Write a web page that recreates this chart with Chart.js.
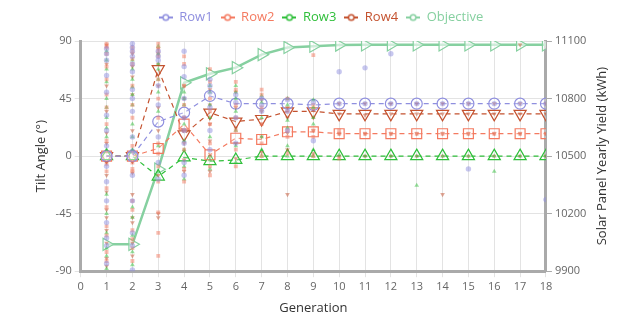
<!DOCTYPE html>
<html lang="en">
<head>
    <meta charset="UTF-8">
    <title>Tilt Angle by Generation</title>
    <script src="https://cdn.jsdelivr.net/npm/chart.js"></script>
    <style>
        html, body { margin: 0; padding: 0; background: #fff; }
        .chart-container { width: 636px; height: 330px; }
    </style>
</head>
<body>
    <div class="chart-container">
        <canvas id="tiltChart"></canvas>
    </div>

<script>
// generations 1..18
const generations = [1, 2, 3, 4, 5, 6, 7, 8, 9, 10, 11, 12, 13, 14, 15, 16, 17, 18];

// best individual per generation (tilt angle, degrees)
const row1Best = [0, 0, 27, 34, 47, 41, 41, 41, 40, 41, 41, 41, 41, 41, 41, 41, 41, 41];
const row2Best = [0, 0, 6, 25, 1, 14, 13, 19, 19, 17.5, 17.5, 17.5, 17.5, 17.5, 17.5, 17.5, 17.5, 17.5];
const row3Best = [0, 0, -16, -1, -4, -3, 0, 0, 0, 0, 0, 0, 0, 0, 0, 0, 0, 0];
const row4Best = [0, 0, 68, 17, 34, 27, 29, 35, 35, 33, 33, 33, 33, 33, 33, 33, 33, 33];

// objective (yearly yield, kWh)
const objective = [10040, 10040, 10432, 10882, 10929, 10961, 11029, 11066, 11073, 11079, 11080, 11080, 11080, 11080, 11080, 11080, 11080, 11080];

// population per generation
const row1Pop = [
    [84, 80, 75, 63, 50, 32, 20, 8, -8, -20, -35, -52, -64, -70, -84],
    [88, 85, 82, 78, 72, 66, 52, 45, 35, 15, 4, -15, -35, -60, -70, -89],
    [82, 78, 75, 55, 40, 15, -5, -18],
    [82, 70, 62, 45, 30, 20, 10, -5, -15],
    [60, 55, 50, 38, 20, 5],
    [48, 42, 30, 10],
    [45, 40, 35],
    [44, 35, 20],
    [42, 12],
    [66, 41],
    [69, 41],
    [80, 41],
    [41],
    [41],
    [41, -10],
    [41],
    [41],
    [41, -34]
];
const row2Pop = [
    [88, 86, 85, 80, 70, 60, 48, 38, 25, 12, -6, -12, -25, -40, -55, -62, -75, -82],
    [85, 82, 76, 72, 55, 40, 30, 8, -5, -10, -12, -35, -42, -58, -65, -72, -82],
    [88, 85, 82, 78, 60, 45, 30, 10, 2, -8, -20, -44, -60, -78],
    [78, 72, 55, 40, 30, 20, 5, -10, -20],
    [68, 58, 45, 35, 25, 10, -8, -15],
    [58, 52, 40, 30, 20, 5, -8],
    [52, 48, 38, 25, 10, 0],
    [45, 35, 20, 15, 2],
    [79, 40, 20, 15, 0],
    [20, 17.5, -2],
    [17.5],
    [17.5],
    [17.5],
    [17.5],
    [17.5],
    [17.5],
    [17.5],
    [17.5]
];
const row3Pop = [
    [82, 75, 68, 58, 45, 38, 30, 22, 15, 5, -30, -45, -60, -72, -78, -88],
    [75, 68, 60, 54, 48, 40, 25, 15, 5, -40, -48, -62, -75, -85],
    [86, 80, 72, 68, 60, 50, 35, 8, -12],
    [50, 45, 40, 25, 12, 5, -8, -18],
    [55, 50, 40, 30, 15, -3, -10],
    [55, 50, 45, 35, 20, 8, -5],
    [47, 42, 30, 15, 5, 0],
    [45, 40, 28, 22, 8, 0],
    [44, 38, 30, 25, 5, 0],
    [1],
    [0],
    [0],
    [0, -23],
    [0],
    [0],
    [0, -12],
    [0],
    [0]
];
const row4Pop = [
    [87, 72, 55, 35, 18, 10, -5, -15, -28, -42, -48, -58, -68, -80, -86],
    [80, 70, 62, 48, 20, -13, -30, -48, -52, -68, -78],
    [84, 80, 72, 55, 38, 20, -15, -45, -48],
    [55, 45, 30, 10, -3, -12],
    [52, 40, 25, 12, 0, -12],
    [50, 38, 22, 10, -2],
    [44, 35, 25, 15, 3],
    [38, 30, 18, 5, -30],
    [36, 30, 20, 2],
    [33, 0, 17.5, 41],
    [32, 0, 17.5, 41],
    [33, 0, 17.5, 41],
    [33, 0, 17.5, 41],
    [33, 0, 17.5, 41, -30],
    [33, 0, 17.5, 41],
    [33, 0, 17.5, 41],
    [33, 87, 0, 17.5, 41],
    [33, 0, 17.5, 41]
];

const colors = {
    row1: '#8f8fdf',
    row2: '#f47a60',
    row3: '#2fbf3a',
    row4: '#c4522f',
    objective: '#86d0a0'
};

const FONT = 'Open Sans';
const rightTitle = 'Solar Panel Yearly Yield (kWh)';

function toPoints(values) {
    return values.map((v, i) => ({ x: generations[i], y: v }));
}

function popPoints(pop) {
    const pts = [];
    pop.forEach((list, i) => list.forEach(v => pts.push({ x: generations[i], y: v })));
    return pts;
}

function alpha(hex, a) {
    const n = parseInt(hex.slice(1), 16);
    return `rgba(${(n >> 16) & 255}, ${(n >> 8) & 255}, ${n & 255}, ${a})`;
}

// legend icon: line with hollow circle
function legendIcon(color) {
    const c = document.createElement('canvas');
    c.width = 14;
    c.height = 10;
    const g = c.getContext('2d');
    g.strokeStyle = color;
    g.lineWidth = 2;
    g.beginPath();
    g.moveTo(0, 5);
    g.lineTo(14, 5);
    g.stroke();
    g.fillStyle = '#fff';
    g.lineWidth = 1.5;
    g.beginPath();
    g.arc(7, 5, 2.8, 0, 2 * Math.PI);
    g.fill();
    g.stroke();
    return c;
}

function bestDataset(label, values, color, style, rotation, radius) {
    return {
        type: 'line',
        label: label,
        data: toPoints(values),
        borderColor: color,
        borderWidth: 1.2,
        borderDash: [5, 4],
        pointStyle: style,
        rotation: rotation,
        pointRadius: radius,
        pointBorderWidth: 1.2,
        pointBackgroundColor: 'rgba(255,255,255,0.25)',
        pointBorderColor: color,
        yAxisID: 'y',
        order: 2
    };
}

function popDataset(label, pop, color, style, rotation) {
    return {
        type: 'scatter',
        label: label,
        data: popPoints(pop),
        showLine: false,
        pointStyle: style,
        rotation: rotation,
        pointRadius: 2.7,
        pointBorderWidth: 0,
        pointBackgroundColor: alpha(color, 0.5),
        pointBorderColor: alpha(color, 0.5),
        yAxisID: 'y',
        order: 1
    };
}

// right axis title reads bottom-to-top, like the left one
const rightTitlePlugin = {
    id: 'rightTitle',
    afterDraw(chart) {
        const s = chart.scales.y1;
        const c = chart.ctx;
        c.save();
        c.translate(s.right - 11, (chart.chartArea.top + chart.chartArea.bottom) / 2);
        c.rotate(-Math.PI / 2);
        c.fillStyle = '#333';
        c.font = `13px "${FONT}"`;
        c.textAlign = 'center';
        c.textBaseline = 'middle';
        c.fillText(rightTitle, 0, 0);
        c.restore();
    }
};

// a little more room under the legend
const legendGapPlugin = {
    id: 'legendGap',
    beforeInit(chart) {
        const fit = chart.legend.fit;
        chart.legend.fit = function () {
            fit.bind(chart.legend)();
            this.height += 7;
        };
    }
};

const ctx = document.getElementById('tiltChart').getContext('2d');

new Chart(ctx, {
    type: 'line',
    data: {
        datasets: [
            bestDataset('Row1', row1Best, colors.row1, 'circle', 0, 5.5),
            bestDataset('Row2', row2Best, colors.row2, 'rect', 0, 7),
            bestDataset('Row3', row3Best, colors.row3, 'triangle', 0, 7),
            bestDataset('Row4', row4Best, colors.row4, 'triangle', 180, 7),
            {
                type: 'line',
                label: 'Objective',
                data: toPoints(objective),
                borderColor: colors.objective,
                borderWidth: 2.5,
                pointStyle: 'triangle',
                rotation: 90,
                pointRadius: 7,
                pointBorderWidth: 1.2,
                pointBackgroundColor: 'rgba(255,255,255,0.6)',
                pointBorderColor: colors.objective,
                yAxisID: 'y1',
                order: 3
            },
            popDataset('pop1', row1Pop, colors.row1, 'circle', 0),
            popDataset('pop2', row2Pop, colors.row2, 'rect', 0),
            popDataset('pop3', row3Pop, colors.row3, 'triangle', 0),
            popDataset('pop4', row4Pop, colors.row4, 'triangle', 180)
        ]
    },
    options: {
        responsive: true,
        maintainAspectRatio: false,
        animation: false,
        layout: {
            padding: { top: 3, left: 29, right: 23, bottom: 10 }
        },
        scales: {
            x: {
                type: 'linear',
                min: 0,
                max: 18,
                ticks: { stepSize: 1, color: '#666', font: { family: FONT, size: 11 } },
                grid: { color: '#e3e3e3', tickLength: 6 },
                border: { color: '#aaa', width: 3 },
                title: { display: true, text: 'Generation', color: '#333', font: { family: FONT, size: 13 } }
            },
            y: {
                position: 'left',
                min: -90,
                max: 90,
                ticks: { stepSize: 45, color: '#666', font: { family: FONT, size: 11 } },
                grid: { color: '#e3e3e3', tickLength: 6 },
                border: { color: '#aaa', width: 3 },
                title: { display: true, text: 'Tilt Angle (°)', color: '#333', font: { family: FONT, size: 13 } }
            },
            y1: {
                position: 'right',
                min: 9900,
                max: 11100,
                ticks: {
                    stepSize: 300,
                    color: '#666',
                    font: { family: FONT, size: 11 },
                    callback: v => String(v)
                },
                grid: { drawOnChartArea: false, tickLength: 6, color: '#aaa' },
                border: { color: '#aaa', width: 3 },
                // space kept, text drawn by rightTitlePlugin
                title: { display: true, text: rightTitle, color: 'rgba(0,0,0,0)', font: { family: FONT, size: 13 } }
            }
        },
        plugins: {
            legend: {
                position: 'top',
                labels: {
                    usePointStyle: true,
                    pointStyleWidth: 14,
                    boxHeight: 10,
                    padding: 8,
                    font: { family: FONT, size: 13 },
                    generateLabels: function (chart) {
                        return chart.data.datasets
                            .map((ds, i) => ({ ds, i }))
                            .filter(o => !o.ds.label.startsWith('pop'))
                            .map(o => ({
                                text: o.ds.label,
                                datasetIndex: o.i,
                                pointStyle: legendIcon(o.ds.borderColor),
                                fontColor: o.ds.borderColor,
                                fillStyle: o.ds.borderColor,
                                strokeStyle: o.ds.borderColor,
                                lineWidth: 0,
                                hidden: false
                            }));
                    }
                }
            },
            tooltip: { enabled: false }
        }
    },
    plugins: [rightTitlePlugin, legendGapPlugin]
});
</script>

</body>
</html>
